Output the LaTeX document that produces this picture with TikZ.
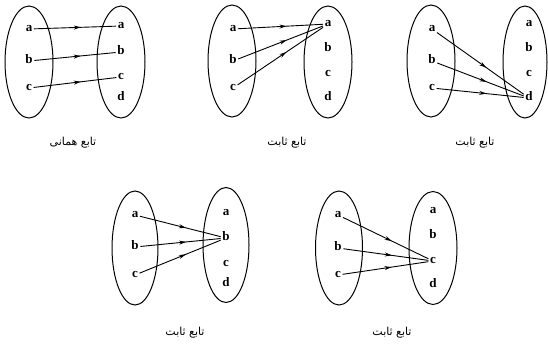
\documentclass[tikz,border=0pt]{standalone}
\usepackage{fontspec}
\setmainfont{Liberation Serif}
\newfontfamily\arabicfont[Script=Arabic]{DejaVu Sans}
\TeXXeTstate=1
\usetikzlibrary{shapes.geometric,arrows.meta,decorations.markings}
\begin{document}
\begin{tikzpicture}[x=1pt,y=-1pt,
  setbox/.style={draw,line width=1pt,ellipse,inner sep=0pt,minimum width=48pt,minimum height=112pt},
  elem/.style={font=\fontsize{13}{13}\selectfont\bfseries,inner sep=1.5pt,text height=1.1ex,text depth=0pt},
  maparrow/.style={line width=0.9pt,postaction={decorate},decoration={markings,mark=at position 0.57 with {\arrow{Stealth[length=7pt,width=4pt]}}}},
  caption/.style={font=\arabicfont\fontsize{11}{13}\selectfont}]
\useasboundingbox (0,0) rectangle (548,346);
% ---------- Diagram 1 ----------
\node[setbox] (L1) at (29,62) {};
\node[setbox] (R1) at (121,62) {};
\node[elem] (l1a) at (29,29) {a};
\node[elem] (l1b) at (29,61) {b};
\node[elem] (l1c) at (29,88) {c};
\node[elem] (r1a) at (121,26) {a};
\node[elem] (r1b) at (121,52) {b};
\node[elem] (r1c) at (121,77) {c};
\node[elem] (r1d) at (121,98) {d};
\draw[maparrow] (l1a) -- (r1a);
\draw[maparrow] (l1b) -- (r1b);
\draw[maparrow] (l1c) -- (r1c);
\node[caption] (c1) at (73,143) {\beginR تابع همانی\endR};
% ---------- Diagram 2 ----------
\node[setbox] (L2) at (232,61) {};
\node[setbox] (R2) at (328,62) {};
\node[elem] (l2a) at (233,29) {a};
\node[elem] (l2b) at (233,61) {b};
\node[elem] (l2c) at (233,88) {c};
\node[elem] (r2a) at (328,24) {a};
\node[elem] (r2b) at (328,49) {b};
\node[elem] (r2c) at (328,74) {c};
\node[elem] (r2d) at (328,98) {d};
\draw[maparrow] (l2a) -- (r2a);
\draw[maparrow] (l2b) -- (r2a);
\draw[maparrow] (l2c) -- (r2a);
\node[caption] (c2) at (287,143) {\beginR تابع ثابت\endR};
% ---------- Diagram 3 ----------
\node[setbox] (L3) at (431,61) {};
\node[setbox,minimum width=44pt] (R3) at (525,62) {};
\node[elem] (l3a) at (432,29) {a};
\node[elem] (l3b) at (432,61) {b};
\node[elem] (l3c) at (432,88) {c};
\node[elem] (r3a) at (529,24) {a};
\node[elem] (r3b) at (529,49) {b};
\node[elem] (r3c) at (529,74) {c};
\node[elem] (r3d) at (529,98) {d};
\draw[maparrow] (l3a) -- (r3d);
\draw[maparrow] (l3b) -- (r3d);
\draw[maparrow] (l3c) -- (r3d);
\node[caption] (c3) at (475,143) {\beginR تابع ثابت\endR};
% ---------- Diagram 4 ----------
\node[setbox,minimum width=46pt,minimum height=114pt] (L4) at (135,248) {};
\node[setbox,minimum width=46pt,minimum height=115pt] (R4) at (226,245) {};
\node[elem] (l4a) at (135,215) {a};
\node[elem] (l4b) at (135,247) {b};
\node[elem] (l4c) at (135,275) {c};
\node[elem] (r4a) at (226,213) {a};
\node[elem] (r4b) at (226,238) {b};
\node[elem] (r4c) at (226,264) {c};
\node[elem] (r4d) at (226,284) {d};
\draw[maparrow] (l4a) -- (r4b);
\draw[maparrow] (l4b) -- (r4b);
\draw[maparrow] (l4c) -- (r4b);
\node[caption] (c4) at (185,333) {\beginR تابع ثابت\endR};
% ---------- Diagram 5 ----------
\node[setbox,minimum width=47pt,minimum height=114pt] (L5) at (339,248) {};
\node[setbox,minimum width=48pt,minimum height=113pt] (R5) at (433,248) {};
\node[elem] (l5a) at (338,215) {a};
\node[elem] (l5b) at (338,248) {b};
\node[elem] (l5c) at (338,275) {c};
\node[elem] (r5a) at (433,211) {a};
\node[elem] (r5b) at (433,236) {b};
\node[elem] (r5c) at (433,261) {c};
\node[elem] (r5d) at (433,285) {d};
\draw[maparrow] (l5a) -- (r5c);
\draw[maparrow] (l5b) -- (r5c);
\draw[maparrow] (l5c) -- (r5c);
\node[caption] (c5) at (392,333) {\beginR تابع ثابت\endR};
\end{tikzpicture}
\end{document}
